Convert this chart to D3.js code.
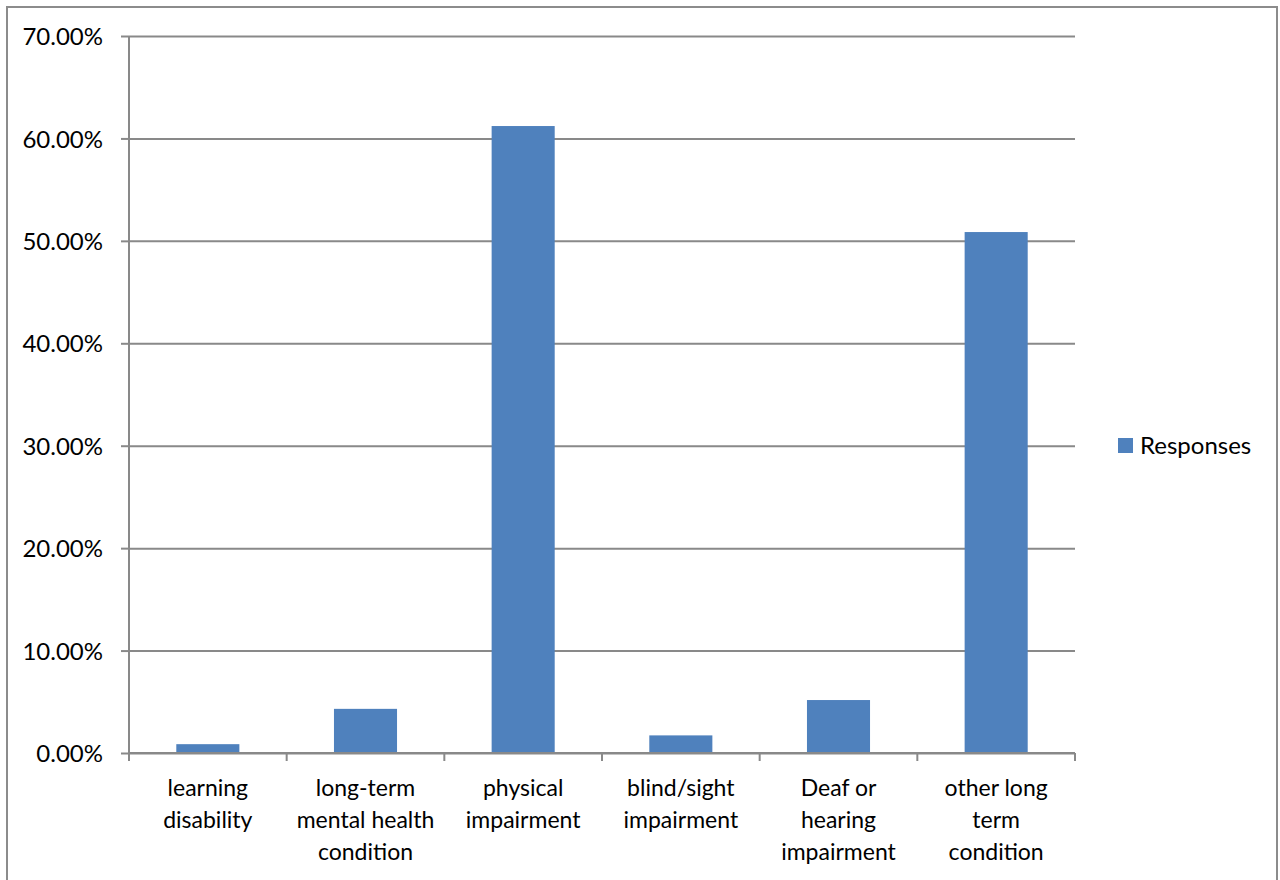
<!DOCTYPE html>
<html>
<head>
<meta charset="utf-8">
<script src="https://cdn.jsdelivr.net/npm/d3@7"></script>
<style>
  html, body { margin: 0; padding: 0; background: #fff; }
  svg { display: block; font-family: Lato, "Noto Sans", sans-serif; }
</style>
</head>
<body>
<svg id="chart" width="1280" height="880"></svg>
<script>
// Disability type reported by respondents (share of responses)
const categories = [
  "learning\ndisability",
  "long-term\nmental health\ncondition",
  "physical\nimpairment",
  "blind/sight\nimpairment",
  "Deaf or\nhearing\nimpairment",
  "other long\nterm\ncondition"
];
const responses = [0.862, 4.31, 61.21, 1.72, 5.17, 50.86];
const yTicks = [0, 10, 20, 30, 40, 50, 60, 70];
const seriesName = "Responses";

const svg = d3.select("#chart");
const plot = { left: 129, right: 1075, top: 36, bottom: 753 };
const gridColor = "#898989";
const barColor = "#4F81BD";
const labelSize = 23;
const valueSize = 24;

// outer chart frame
svg.append("rect")
  .attr("x", 7).attr("y", 7)
  .attr("width", 1270).attr("height", 890)
  .attr("fill", "#fff")
  .attr("stroke", "#8c8c8c").attr("stroke-width", 2);

const x = d3.scaleBand()
  .domain(categories)
  .range([plot.left, plot.right])
  .paddingInner(0).paddingOuter(0);

const y = d3.scaleLinear()
  .domain([0, 70])
  .range([plot.bottom, plot.top]);

// horizontal gridlines + y ticks
const yAxis = d3.axisLeft(y)
  .tickValues(yTicks)
  .tickSize(8)
  .tickFormat(d => d.toFixed(2) + "%");

const gy = svg.append("g")
  .attr("transform", `translate(${plot.left},0)`)
  .call(yAxis);
gy.select(".domain").remove();
gy.selectAll(".tick line").attr("stroke", gridColor).attr("stroke-width", 2);
gy.selectAll(".tick")
  .append("line")
  .attr("x1", 0).attr("x2", plot.right - plot.left)
  .attr("stroke", gridColor).attr("stroke-width", 2);
gy.selectAll(".tick text")
  .attr("x", -26)
  .attr("dy", "0.36em")
  .attr("fill", "#000")
  .style("font-size", valueSize + "px")
  .style("font-family", "Lato, sans-serif");

// vertical axis line
svg.append("line")
  .attr("x1", plot.left).attr("x2", plot.left)
  .attr("y1", plot.top).attr("y2", plot.bottom + 8)
  .attr("stroke", gridColor).attr("stroke-width", 2);

// bars (40% of each category slot, centred)
const barW = x.bandwidth() * 0.4;
svg.append("g")
  .selectAll("rect")
  .data(categories.map((c, i) => ({ c, v: responses[i] })))
  .join("rect")
  .attr("x", d => x(d.c) + (x.bandwidth() - barW) / 2)
  .attr("y", d => y(d.v))
  .attr("width", barW)
  .attr("height", d => y(0) - y(d.v))
  .attr("fill", barColor);

// x axis baseline with category boundary ticks
svg.append("line")
  .attr("x1", plot.left).attr("x2", plot.right)
  .attr("y1", plot.bottom).attr("y2", plot.bottom)
  .attr("stroke", gridColor).attr("stroke-width", 2);

const boundaries = categories.map(c => x(c)).concat([plot.right]);
svg.append("g")
  .selectAll("line")
  .data(boundaries)
  .join("line")
  .attr("x1", d => d).attr("x2", d => d)
  .attr("y1", plot.bottom).attr("y2", plot.bottom + 8)
  .attr("stroke", gridColor).attr("stroke-width", 2);

// category labels
const lab = svg.append("g")
  .selectAll("text")
  .data(categories)
  .join("text")
  .attr("text-anchor", "middle")
  .attr("fill", "#000")
  .style("font-size", labelSize + "px");
lab.each(function (c) {
  const t = d3.select(this);
  c.split("\n").forEach((line, i) => {
    t.append("tspan")
      .attr("x", x(c) + x.bandwidth() / 2)
      .attr("y", 796 + i * 32)
      .text(line);
  });
});

// legend
const lg = svg.append("g");
lg.append("rect")
  .attr("x", 1118).attr("y", 438)
  .attr("width", 15).attr("height", 15)
  .attr("fill", barColor);
lg.append("text")
  .attr("x", 1140).attr("y", 445.5)
  .attr("dy", "0.36em")
  .attr("fill", "#000")
  .style("font-size", valueSize + "px")
  .text(seriesName);
</script>
</body>
</html>
